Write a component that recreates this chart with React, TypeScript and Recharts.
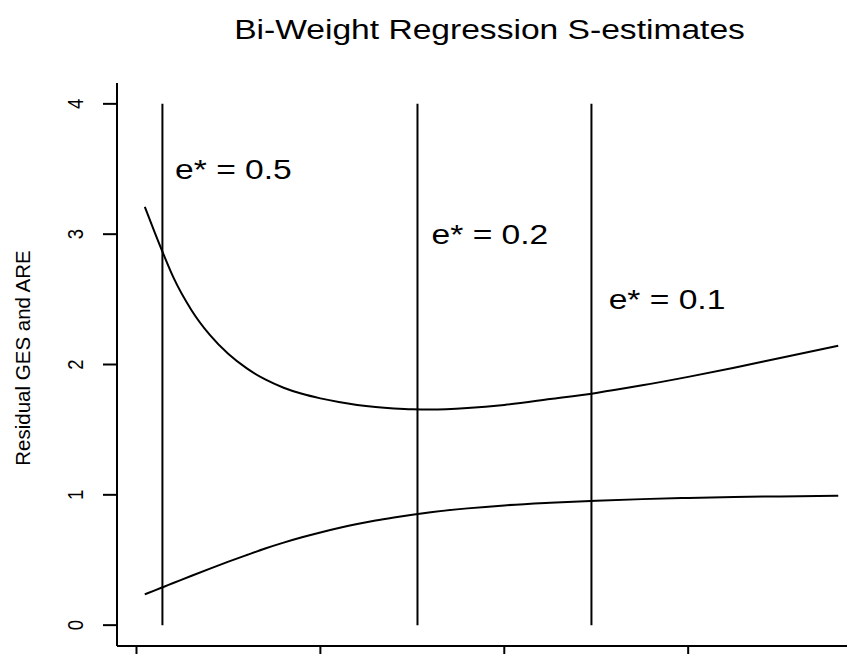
import React from 'react';
import { LineChart, Line, XAxis, YAxis, ReferenceLine, ReferenceDot } from 'recharts';

// tuning constant grid (axis units, tick labels fall below the visible page)
const cValues = [1.045, 1.1, 1.15, 1.2, 1.3, 1.4, 1.5, 1.6, 1.7, 1.8, 1.9, 2.0, 2.1, 2.2, 2.3, 2.4, 2.5, 2.6, 2.8, 3.0, 3.25, 3.5, 3.75, 4.0, 4.25, 4.5, 4.816];
const gesValues = [3.21, 3.01, 2.835, 2.67, 2.415, 2.225, 2.08, 1.97, 1.885, 1.822, 1.775, 1.74, 1.712, 1.69, 1.674, 1.663, 1.656, 1.654, 1.666, 1.69, 1.735, 1.782, 1.84, 1.905, 1.975, 2.05, 2.144];
const areValues = [0.236, 0.267, 0.295, 0.323, 0.379, 0.434, 0.487, 0.538, 0.588, 0.633, 0.674, 0.711, 0.745, 0.776, 0.803, 0.826, 0.847, 0.866, 0.896, 0.919, 0.939, 0.955, 0.967, 0.976, 0.983, 0.988, 0.993];

// breakdown cutoffs
const breakdownLabels = ['0.5', '0.2', '0.1'];
const cutoffX = [1.141, 2.528, 3.474];
const labelX = [1.527, 2.922, 3.885];
const labelY = [3.5, 3.0, 2.5];

const xTicks = [1, 2, 3, 4];
const yTicks = [0, 1, 2, 3, 4];

const data = cValues.map((c, i) => ({ c, ges: gesValues[i], are: areValues[i] }));

const FONT = '"Liberation Sans", Arial, Helvetica, sans-serif';
const SX = 1.2; // the reference is stretched horizontally

const YTick = ({ x, y, payload }: any) => (
  <g transform={`translate(${x},${y}) scale(${SX},1) rotate(-90)`}>
    <text x={0} y={0} textAnchor="middle" fontSize={18.5} fontFamily={FONT} fill="#000">
      {payload.value}
    </text>
  </g>
);

// x tick labels sit below the visible page, only the marks show
const XTick = () => <g />;

const makeLabel = (txt: string) => (props: any) => (
  <g transform={`translate(${props.cx},${props.cy}) scale(${SX},1)`}>
    <text x={0} y={0} dy={10} textAnchor="middle" fontSize={28} fontFamily={FONT} fill="#000">
      {txt}
    </text>
  </g>
);

export default function App() {
  return (
    <div style={{ position: 'fixed', left: 0, top: 0, width: 847, height: 654, overflow: 'hidden', background: '#fff' }}>
      <svg width={847} height={60} style={{ position: 'absolute', left: 0, top: 0 }}>
        <g transform={`translate(489.5,39) scale(${SX},1)`}>
          <text x={0} y={0} textAnchor="middle" fontSize={28} fontFamily={FONT} fill="#000">
            Bi-Weight Regression S-estimates
          </text>
        </g>
      </svg>
      <svg width={60} height={654} style={{ position: 'absolute', left: 0, top: 0 }}>
        <g transform="translate(30,358) rotate(-90)">
          <text x={0} y={0} textAnchor="middle" fontSize={20.5} fontFamily={FONT} fill="#000">
            Residual GES and ARE
          </text>
        </g>
      </svg>
      <div style={{ position: 'absolute', left: 0, top: 0 }}>
        <LineChart width={900} height={720} data={data} margin={{ top: 83, right: 34, bottom: 34, left: 57 }}>
          <XAxis
            dataKey="c"
            type="number"
            domain={[0.894, 4.967]}
            ticks={xTicks}
            tickSize={14}
            tick={<XTick />}
            height={40}
            stroke="#000"
            strokeWidth={2}
            allowDataOverflow
          />
          <XAxis
            xAxisId="top"
            orientation="top"
            dataKey="c"
            type="number"
            domain={[0.894, 4.967]}
            height={0}
            tick={false}
            tickLine={false}
            stroke="#000"
            strokeWidth={2}
            allowDataOverflow
          />
          <YAxis
            type="number"
            domain={[-0.16, 4.16]}
            ticks={yTicks}
            tickSize={14}
            tickMargin={20}
            tick={<YTick />}
            width={60}
            stroke="#000"
            strokeWidth={2}
            allowDataOverflow
          />
          <YAxis
            yAxisId="right"
            orientation="right"
            type="number"
            domain={[-0.16, 4.16]}
            width={0}
            tick={false}
            tickLine={false}
            stroke="#000"
            strokeWidth={2}
          />
          {cutoffX.map((cx, i) => (
            <ReferenceLine
              key={`cut-${i}`}
              segment={[{ x: cx, y: 0 }, { x: cx, y: 4 }]}
              stroke="#000"
              strokeWidth={2}
            />
          ))}
          <Line type="monotone" dataKey="ges" stroke="#000" strokeWidth={2} dot={false} isAnimationActive={false} />
          <Line type="monotone" dataKey="are" stroke="#000" strokeWidth={2} dot={false} isAnimationActive={false} />
          {breakdownLabels.map((b, i) => (
            <ReferenceDot
              key={`lab-${i}`}
              x={labelX[i]}
              y={labelY[i]}
              r={0}
              shape={makeLabel(`e* = ${b}`)}
            />
          ))}
        </LineChart>
      </div>
    </div>
  );
}
